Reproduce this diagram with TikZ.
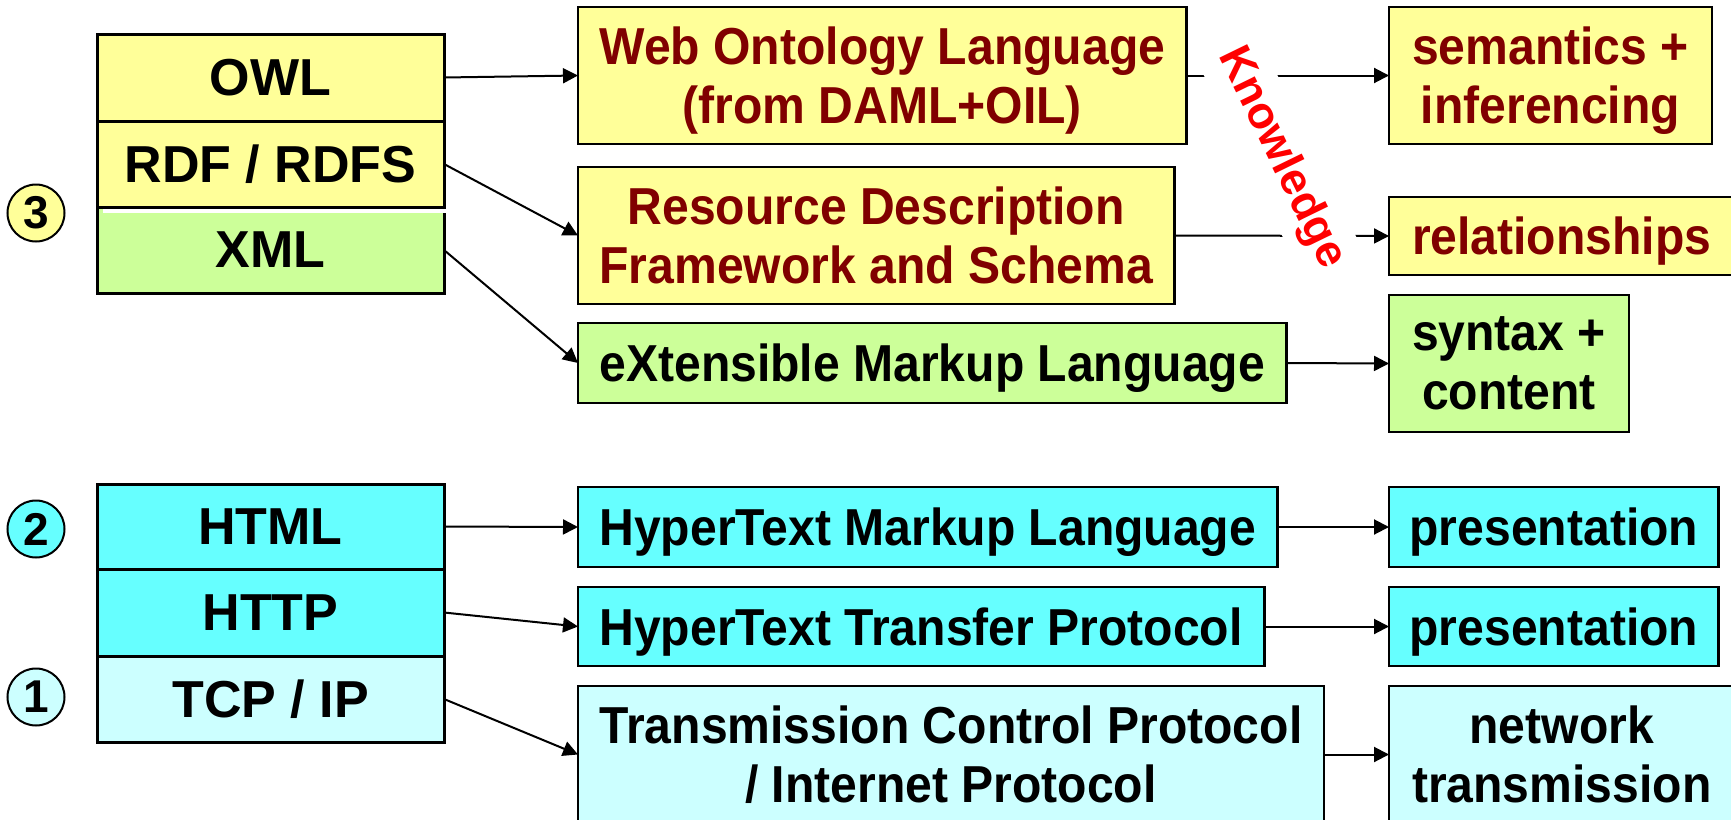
\documentclass[tikz,border=0pt]{standalone}
\usepackage{fontspec}
\setmainfont{Liberation Sans}
\newfontfamily\narrowsans{Liberation Sans}[FakeStretch=0.925]
\usetikzlibrary{positioning, arrows.meta}

\definecolor{semyellow}{HTML}{FFFF99}
\definecolor{syngreen}{HTML}{CCFF99}
\definecolor{webcyan}{HTML}{66FFFF}
\definecolor{netcyan}{HTML}{CCFFFF}
\definecolor{darkred}{HTML}{800000}

\tikzset{
  stackbox/.style={draw, line width=3pt, minimum width=347pt, inner sep=0pt, outer sep=0pt,
    font=\fontsize{52}{60}\selectfont\bfseries},
  numcircle/.style={circle, draw, line width=2pt, minimum size=57pt, inner sep=0pt,
    font=\fontsize{46}{50}\selectfont\bfseries},
  namebox/.style={draw, line width=2.5pt, anchor=north west, inner xsep=21.5pt, inner ysep=0pt,
    outer sep=0pt, align=center, text depth=0pt, font=\narrowsans\fontsize{52}{59}\selectfont\bfseries},
  aimbox/.style={namebox, inner xsep=23pt},
  arrowline/.style={line width=2pt, -{Triangle[length=15pt,width=15pt]}},
}

\begin{document}
\begin{tikzpicture}[x=1pt, y=-1pt]
  \useasboundingbox (0,0) rectangle (1731,819);

  % layer 3: semantic web stack
  \node[stackbox, fill=semyellow, minimum height=87pt] (owl) at (270.5,77.5) {OWL};
  \node[stackbox, fill=semyellow, minimum height=86pt, below=0pt of owl] (rdf) {RDF / RDFS};
  \node[stackbox, fill=syngreen, minimum height=86pt, below=0pt of rdf] (xml) {XML};
  \fill[white] ([xshift=6pt,yshift=-1.5pt]xml.north west) rectangle ([xshift=1.5pt,yshift=-6pt]xml.north east);

  % layers 1 and 2: web and network
  \node[stackbox, fill=webcyan, minimum height=85pt] (html) at (270.5,526.5) {HTML};
  \node[stackbox, fill=webcyan, minimum height=87pt, below=0pt of html] (http) {HTTP};
  \node[stackbox, fill=netcyan, minimum height=86pt, below=0pt of http] (tcp) {TCP / IP};

  % layer numbers
  \node[numcircle, fill=semyellow] (n3) at (36,213) {3};
  \node[numcircle, fill=webcyan] (n2) at (36,529) {2};
  \node[numcircle, fill=netcyan] (n1) at (36,697) {1};

  % full names
  \node[namebox, fill=semyellow, text=darkred, minimum height=137pt] (owlfull) at (578,7)
    {Web Ontology Language\\(from DAML+OIL)};
  \node[namebox, fill=semyellow, text=darkred, minimum height=137pt] (rdffull) at (578,167)
    {Resource Description\\Framework and Schema};
  \node[namebox, fill=syngreen, minimum height=80pt] (xmlfull) at (578,323) {eXtensible Markup Language};
  \node[namebox, fill=webcyan, minimum height=80pt] (htmlfull) at (578,487) {HyperText Markup Language};
  \node[namebox, fill=webcyan, minimum height=79pt] (httpfull) at (578,587) {HyperText Transfer Protocol};
  \node[namebox, fill=netcyan, minimum height=137pt] (tcpfull) at (578,686)
    {Transmission Control Protocol\\/ Internet Protocol};

  % what each layer adds
  \node[aimbox, fill=semyellow, text=darkred, minimum height=137pt] (semantics) at (1389,7)
    {semantics +\\inferencing};
  \node[aimbox, fill=semyellow, text=darkred, minimum height=78pt] (relations) at (1389,197) {relationships};
  \node[aimbox, fill=syngreen, minimum height=137pt] (syntax) at (1389,295) {syntax +\\content};
  \node[aimbox, fill=webcyan, minimum height=80pt, inner xsep=20.5pt] (present1) at (1389,487) {presentation};
  \node[aimbox, fill=webcyan, minimum height=79pt, inner xsep=20.5pt] (present2) at (1389,587) {presentation};
  \node[aimbox, fill=netcyan, minimum height=137pt] (transmit) at (1389,686) {network\\transmission};

  % stack -> names
  \draw[arrowline] (owl.east) -- (owlfull.west);
  \draw[arrowline] (rdf.east) -- (rdffull.west);
  \draw[arrowline] (xml.east) -- (xmlfull.west);
  \draw[arrowline] (html.east) -- (htmlfull.west);
  \draw[arrowline] (http.east) -- (httpfull.west);
  \draw[arrowline] (tcp.east) -- (tcpfull.west);

  % names -> purpose
  \draw[arrowline] (owlfull.east) -- (semantics.west);
  \draw[arrowline] (rdffull.east) -- (relations.west);
  \draw[arrowline] (xmlfull.east) -- (syntax.west);
  \draw[arrowline] (htmlfull.east) -- (present1.west);
  \draw[arrowline] (httpfull.east) -- (present2.west);
  \draw[arrowline] (tcpfull.east) -- (transmit.west);

  % label across the two top links
  \node[rotate=-64, fill=white, inner sep=12pt, text=red,
    font=\fontsize{45}{45}\selectfont\bfseries] (knowledge) at (1281,158) {Knowledge};
\end{tikzpicture}
\end{document}
